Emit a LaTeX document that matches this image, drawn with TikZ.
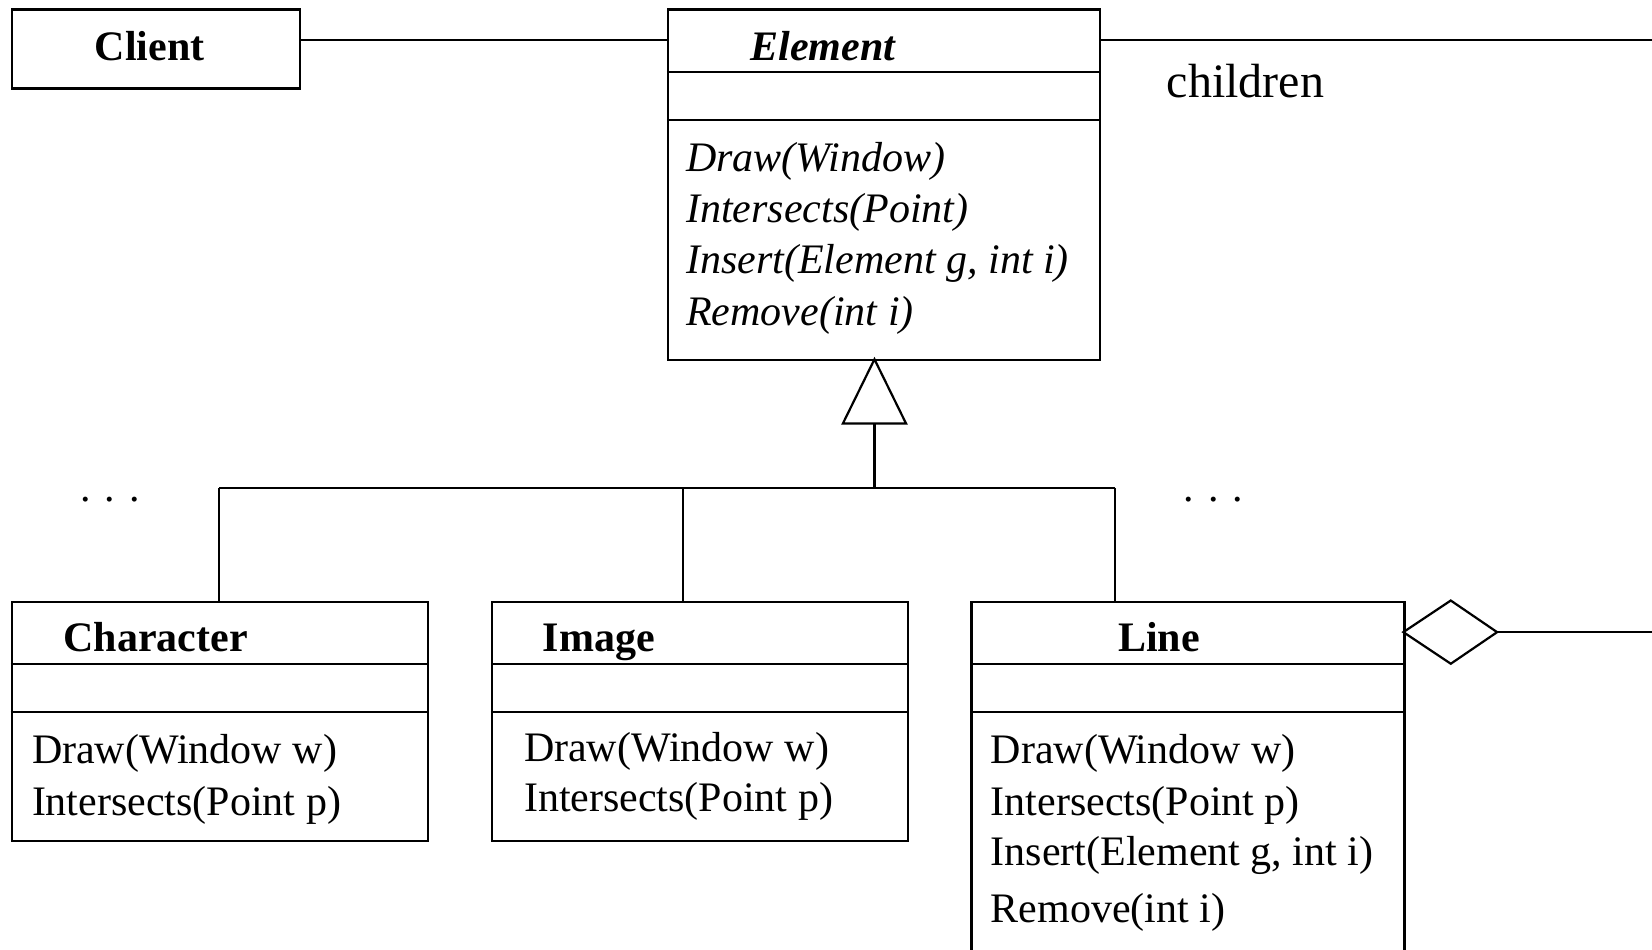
\documentclass[tikz,border=0pt]{standalone}
\usepackage{fontspec}
\setmainfont{Liberation Serif}
\begin{document}
\begin{tikzpicture}[x=0.5268pt,y=-0.5268pt,
  box/.style={draw,line width=1.1pt,rectangle,anchor=north west,inner sep=0pt},
  ln/.style={line width=1.1pt},
  txt/.style={inner sep=0pt,anchor=west,text height=14.7pt,text depth=4.6pt,font=\fontsize{21}{25}\selectfont},
  ttl/.style={inner sep=0pt,text height=14.7pt,text depth=4.6pt,font=\fontsize{21}{25}\selectfont\bfseries}]
\clip (0,0) rectangle (1568,901);
% Client
\node[box,minimum width=274*0.5268pt,minimum height=75*0.5268pt] (client) at (10,8) {};
\node[ttl] (clientT) at (142,48) {Client};
% Element
\node[box,minimum width=410*0.5268pt,minimum height=333*0.5268pt] (elem) at (633,8) {};
\draw[ln] (633,68) -- (1043,68);
\draw[ln] (633,114) -- (1043,114);
\node[ttl,font=\fontsize{21}{25}\selectfont\bfseries\itshape,anchor=west] (elemT) at (712,48) {Element};
\node[txt,font=\fontsize{21}{25}\selectfont\itshape] (e1) at (651,153) {Draw(Window)};
\node[txt,font=\fontsize{21}{25}\selectfont\itshape] (e2) at (651,202) {Intersects(Point)};
\node[txt,font=\fontsize{21}{25}\selectfont\itshape] (e3) at (651,250) {Insert(Element g, int i)};
\node[txt,font=\fontsize{21}{25}\selectfont\itshape] (e4) at (651,299) {Remove(int i)};
% client -- element
\draw[ln] (client.east |- 0,38) -- (elem.west |- 0,38);
% children line
\coordinate (rightA) at (1568,38);
\draw[ln] (elem.east |- 0,38) -- (rightA);
\node[txt,text height=16.8pt,text depth=5.3pt,font=\fontsize{24}{28}\selectfont] (children) at (1107,82) {children};
% Character
\node[box,minimum width=395*0.5268pt,minimum height=227*0.5268pt] (char) at (10,570) {};
\draw[ln] (10,630) -- (405,630);
\draw[ln] (10,676) -- (405,676);
\node[ttl,anchor=west] (charT) at (60,609) {Character};
\node[txt] (c1) at (30,715) {Draw(Window w)};
\node[txt] (c2) at (30,764) {Intersects(Point p)};
% Image
\node[box,minimum width=395*0.5268pt,minimum height=227*0.5268pt] (img) at (466,570) {};
\draw[ln] (466,630) -- (861,630);
\draw[ln] (466,676) -- (861,676);
\node[ttl,anchor=west] (imgT) at (515,609) {Image};
\node[txt] (i1) at (497,713) {Draw(Window w)};
\node[txt] (i2) at (497,761) {Intersects(Point p)};
% Line
\node[box,minimum width=411*0.5268pt,minimum height=360*0.5268pt] (line) at (921,570) {};
\draw[ln] (921,630) -- (1332,630);
\draw[ln] (921,676) -- (1332,676);
\node[ttl] (lineT) at (1100,609) {Line};
\node[txt] (l1) at (940,715) {Draw(Window w)};
\node[txt] (l2) at (940,764) {Intersects(Point p)};
\node[txt] (l3) at (940,812) {Insert(Element g, int i)};
\node[txt] (l4) at (940,866) {Remove(int i)};
% generalization
\coordinate (tip) at (830,341);
\coordinate (tb) at (830,402);
\coordinate (bar) at (830,463);
\draw[ln,line join=miter] (tip) -- (860,402) -- (800,402) -- cycle;
\draw[ln] (tb) -- (bar);
\draw[ln] (208,463) -- (1058,463);
\draw[ln] (208,463) -- (208,570);
\draw[ln] (648,463) -- (648,570);
\draw[ln] (1058,463) -- (1058,570);
\node[txt] (dots1) at (76,466) {. . .};
\node[txt] (dots2) at (1123,466) {. . .};
% aggregation
\coordinate (dl) at (1332,600);
\coordinate (dr) at (1421,600);
\draw[ln,line join=miter] (dl) -- (1377,570) -- (dr) -- (1377,630) -- cycle;
\coordinate (rightB) at (1568,600);
\draw[ln] (dr) -- (rightB);
\end{tikzpicture}
\end{document}
